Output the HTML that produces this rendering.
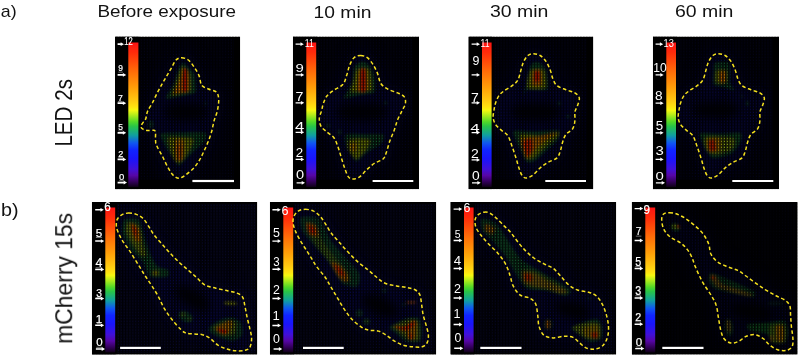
<!DOCTYPE html>
<html><head><meta charset="utf-8"><title>Figure</title>
<style>html,body{margin:0;padding:0;background:#fff;}body{width:800px;height:358px;overflow:hidden;font-family:"Liberation Sans",sans-serif;}svg{display:block;}</style>
</head><body>
<svg width="800" height="358" viewBox="0 0 800 358">
<defs>
<linearGradient id="cb" x1="0" y1="0" x2="0" y2="1"><stop offset="0" stop-color="#ff1414"/><stop offset="0.07" stop-color="#ff2c0a"/><stop offset="0.2" stop-color="#ff6c08"/><stop offset="0.315" stop-color="#ffa008"/><stop offset="0.4" stop-color="#ffc810"/><stop offset="0.448" stop-color="#ffe410"/><stop offset="0.468" stop-color="#f6f810"/><stop offset="0.493" stop-color="#c4f018"/><stop offset="0.55" stop-color="#50d828"/><stop offset="0.58" stop-color="#28c448"/><stop offset="0.642" stop-color="#10a0a0"/><stop offset="0.695" stop-color="#1058f0"/><stop offset="0.745" stop-color="#1024ff"/><stop offset="0.805" stop-color="#1a14fa"/><stop offset="0.876" stop-color="#4010d8"/><stop offset="0.92" stop-color="#5606a6"/><stop offset="0.96" stop-color="#360060"/><stop offset="1" stop-color="#0e0016"/></linearGradient>
<pattern id="gridV" width="2.9" height="2.9" patternUnits="userSpaceOnUse"><rect x="0" y="0" width="1.72" height="2.9" fill="#000"/></pattern>
<pattern id="gridH" width="2.9" height="2.9" patternUnits="userSpaceOnUse"><rect x="1.72" y="0" width="1.18" height="1.66" fill="#000"/></pattern>
<filter id="bl" x="-50%" y="-50%" width="200%" height="200%"><feGaussianBlur stdDeviation="0.9"/></filter>
<filter id="bl3" x="-50%" y="-50%" width="200%" height="200%"><feGaussianBlur stdDeviation="8"/></filter>
<filter id="bl2" x="-50%" y="-50%" width="200%" height="200%"><feGaussianBlur stdDeviation="4"/></filter>
<clipPath id="ca1"><rect x="115.0" y="36.6" width="125.2" height="152.6"/></clipPath>
<clipPath id="ca2"><rect x="292.9" y="36.6" width="126.1" height="152.6"/></clipPath>
<clipPath id="ca3"><rect x="468.5" y="36.6" width="124.8" height="152.6"/></clipPath>
<clipPath id="ca4"><rect x="652.9" y="36.6" width="126.1" height="152.6"/></clipPath>
<clipPath id="cb1"><rect x="91.9" y="201.9" width="165.4" height="152.7"/></clipPath>
<clipPath id="cb2"><rect x="269.9" y="201.9" width="166.3" height="152.7"/></clipPath>
<clipPath id="cb3"><rect x="450.5" y="201.9" width="165.7" height="152.7"/></clipPath>
<clipPath id="cb4"><rect x="631.8" y="201.9" width="165.8" height="152.7"/></clipPath>
<path id="pa1" d="M181.6 57.7C183.7 57.7 186.2 58.5 188.3 60.0C190.4 61.5 192.1 64.1 193.9 66.7C195.7 69.3 197.7 72.5 199.0 75.6C200.3 78.7 200.1 83.0 201.7 85.2C203.3 87.4 206.0 87.9 208.4 89.0C210.8 90.1 214.6 90.3 216.3 92.0C218.0 93.7 218.5 96.0 218.7 99.1C218.9 102.2 218.2 107.0 217.4 110.7C216.6 114.4 214.9 117.6 214.0 121.0C213.1 124.4 212.7 127.7 211.8 131.0C210.9 134.3 209.7 137.8 208.4 141.1C207.1 144.4 205.5 147.9 204.0 151.1C202.5 154.3 201.2 157.3 199.5 160.1C197.8 162.9 196.1 165.5 193.9 167.9C191.7 170.3 188.5 172.9 186.1 174.6C183.7 176.3 181.4 178.0 179.4 178.2C177.4 178.4 175.7 177.5 173.8 175.8C171.9 174.1 170.1 171.1 168.2 167.9C166.3 164.7 164.4 160.1 162.6 156.7C160.8 153.3 158.7 149.7 157.6 147.5C156.5 145.3 156.2 145.0 155.8 143.4C155.5 141.8 155.6 139.5 155.5 137.7C155.4 135.8 155.8 133.5 155.5 132.3C155.2 131.1 155.2 130.6 153.9 130.3C152.6 130.0 149.5 130.6 147.6 130.4C145.7 130.2 143.6 129.6 142.5 128.9C141.4 128.2 141.0 127.3 141.0 126.4C141.0 125.5 141.7 124.5 142.5 123.3C143.3 122.0 144.8 120.9 145.7 118.9C146.5 116.9 146.4 114.0 147.6 111.3C148.8 108.6 150.9 105.7 152.6 102.5C154.2 99.3 155.8 95.7 157.5 92.4C159.2 89.2 161.0 85.8 162.6 83.0C164.2 80.2 165.5 78.1 167.0 75.6C168.5 73.1 170.0 70.4 171.5 67.8C173.0 65.2 174.3 61.7 176.0 60.0C177.7 58.3 179.5 57.7 181.6 57.7Z"/>
<path id="pa2" d="M360.7 55.5C362.9 55.5 365.3 56.2 367.4 57.7C369.4 59.2 371.3 61.8 373.0 64.4C374.7 67.0 376.2 70.2 377.5 73.4C378.8 76.6 379.1 80.9 380.8 83.5C382.5 86.1 384.8 87.4 387.6 89.0C390.4 90.6 394.8 91.6 397.6 92.9C400.4 94.2 403.0 95.1 404.3 96.9C405.6 98.7 405.8 101.3 405.4 103.6C405.0 105.9 403.4 108.0 402.1 110.7C400.8 113.4 398.9 116.6 397.6 119.8C396.3 123.0 395.6 126.4 394.3 129.9C393.0 133.5 391.1 137.4 389.8 141.1C388.5 144.8 387.5 149.3 386.4 152.3C385.3 155.3 385.2 157.1 383.1 159.0C381.1 160.9 376.9 161.6 374.1 163.5C371.3 165.4 368.7 168.0 366.3 170.2C363.9 172.4 361.8 175.4 359.6 176.9C357.4 178.4 354.8 179.1 352.9 179.1C351.0 179.1 349.7 178.6 348.4 176.9C347.1 175.2 346.1 172.0 345.0 169.0C343.9 166.0 342.8 162.5 341.7 159.0C340.6 155.5 339.6 151.4 338.3 147.8C337.0 144.2 335.8 140.3 333.9 137.7C332.0 135.1 329.2 134.0 327.1 132.1C325.0 130.2 322.4 128.7 321.1 126.5C319.8 124.3 319.2 121.3 319.3 118.7C319.4 116.1 320.9 113.2 321.6 110.7C322.3 108.2 322.4 106.1 323.3 103.6C324.2 101.1 325.3 98.0 327.1 95.8C328.9 93.6 331.3 92.1 333.9 90.2C336.5 88.3 340.7 87.0 342.8 84.6C344.9 82.2 345.5 78.8 346.6 75.6C347.7 72.4 348.3 68.6 349.5 65.6C350.7 62.6 352.1 59.4 354.0 57.7C355.9 56.0 358.5 55.5 360.7 55.5Z"/>
<path id="pa3" d="M533.5 53.7C535.5 53.7 538.2 54.3 540.2 55.5C542.2 56.7 544.1 58.7 545.8 61.1C547.5 63.5 549.0 67.0 550.2 70.0C551.4 73.0 551.8 76.4 552.9 79.0C554.0 81.6 554.8 83.9 557.0 85.7C559.2 87.5 562.9 88.5 565.9 89.7C568.9 90.9 572.7 91.5 574.9 92.9C577.1 94.3 578.9 95.8 579.3 98.0C579.7 100.2 578.2 103.5 577.5 105.8C576.8 108.1 575.3 109.5 574.9 112.0C574.5 114.5 575.3 118.1 574.9 120.9C574.5 123.7 574.1 126.6 572.6 128.8C571.1 131.1 567.6 132.2 565.9 134.4C564.2 136.6 563.5 139.4 562.6 142.2C561.7 145.0 561.2 148.5 560.3 151.1C559.4 153.7 559.0 156.0 557.0 157.9C555.0 159.8 550.8 160.6 548.0 162.3C545.2 164.0 542.6 165.9 540.2 167.9C537.8 169.9 535.7 172.9 533.5 174.6C531.3 176.3 528.7 177.8 526.8 178.0C524.9 178.2 523.6 177.5 522.3 175.8C521.0 174.1 520.0 171.1 518.9 167.9C517.8 164.7 516.8 160.4 515.6 156.7C514.4 153.0 513.1 149.1 511.8 145.6C510.5 142.1 509.5 138.1 507.7 135.5C505.9 132.9 503.1 131.8 501.0 129.9C498.9 128.0 496.7 126.3 495.4 124.3C494.1 122.2 493.4 119.9 493.2 117.6C492.9 115.3 493.5 113.0 493.9 110.7C494.3 108.4 494.6 106.1 495.4 103.6C496.2 101.1 497.3 98.0 498.8 95.8C500.3 93.6 502.2 92.3 504.4 90.6C506.6 88.9 510.0 87.5 512.2 85.7C514.4 84.0 516.4 82.5 517.8 80.1C519.2 77.7 519.8 74.1 520.7 71.1C521.6 68.1 522.2 64.8 523.4 62.2C524.6 59.6 526.2 56.9 527.9 55.5C529.6 54.1 531.5 53.7 533.5 53.7Z"/>
<path id="pa4" d="M718.5 53.7C720.5 53.7 723.2 54.3 725.2 55.5C727.2 56.7 729.1 58.7 730.8 61.1C732.5 63.5 734.0 67.0 735.2 70.0C736.4 73.0 736.8 76.4 737.9 79.0C739.0 81.6 739.8 83.9 742.0 85.7C744.2 87.5 747.9 88.5 750.9 89.7C753.9 90.9 757.7 91.5 759.9 92.9C762.1 94.3 763.9 95.8 764.3 98.0C764.7 100.2 763.2 103.5 762.5 105.8C761.8 108.1 760.3 109.5 759.9 112.0C759.5 114.5 760.3 118.1 759.9 120.9C759.5 123.7 759.1 126.6 757.6 128.8C756.1 131.1 752.6 132.2 750.9 134.4C749.2 136.6 748.5 139.4 747.6 142.2C746.7 145.0 746.2 148.5 745.3 151.1C744.4 153.7 744.0 156.0 742.0 157.9C740.0 159.8 735.8 160.6 733.0 162.3C730.2 164.0 727.6 165.9 725.2 167.9C722.8 169.9 720.7 172.9 718.5 174.6C716.3 176.3 713.7 177.8 711.8 178.0C709.9 178.2 708.6 177.5 707.3 175.8C706.0 174.1 705.0 171.1 703.9 167.9C702.8 164.7 701.8 160.4 700.6 156.7C699.4 153.0 698.1 149.1 696.8 145.6C695.5 142.1 694.5 138.1 692.7 135.5C690.9 132.9 688.0 131.8 686.0 129.9C684.0 128.0 681.7 126.3 680.4 124.3C679.1 122.2 678.5 119.9 678.2 117.6C678.0 115.3 678.5 113.0 678.9 110.7C679.3 108.4 679.6 106.1 680.4 103.6C681.2 101.1 682.3 98.0 683.8 95.8C685.3 93.6 687.2 92.3 689.4 90.6C691.6 88.9 695.0 87.5 697.2 85.7C699.4 84.0 701.4 82.5 702.8 80.1C704.2 77.7 704.8 74.1 705.7 71.1C706.6 68.1 707.2 64.8 708.4 62.2C709.6 59.6 711.2 56.9 712.9 55.5C714.6 54.1 716.5 53.7 718.5 53.7Z"/>
<path id="pb1" d="M128.4 213.1C130.8 213.0 133.8 213.5 136.2 214.4C138.6 215.3 140.8 216.4 142.9 218.3C145.0 220.2 146.6 223.3 148.5 226.1C150.4 228.9 151.9 232.0 154.1 235.0C156.3 238.0 159.3 241.0 161.9 244.0C164.5 247.0 167.0 249.9 169.8 252.9C172.6 255.9 175.7 259.1 178.7 261.9C181.7 264.7 184.7 267.1 187.7 269.7C190.7 272.3 193.8 275.0 196.6 277.5C199.4 280.0 201.4 283.0 204.6 284.8C207.8 286.6 211.9 287.2 215.8 288.2C219.7 289.2 224.6 290.1 228.1 290.9C231.6 291.7 234.6 292.1 237.0 293.1C239.4 294.1 241.3 294.9 242.6 297.1C243.9 299.3 244.2 302.7 244.9 306.1C245.7 309.5 246.3 313.6 247.1 317.3C247.9 321.0 249.1 325.0 249.8 328.5C250.6 332.0 251.6 335.3 251.6 338.5C251.6 341.7 250.9 345.5 249.8 347.5C248.7 349.5 247.2 349.8 244.9 350.4C242.6 350.9 238.9 351.0 235.9 350.8C232.9 350.6 230.0 349.9 227.0 349.0C224.0 348.1 220.8 346.9 218.0 345.2C215.2 343.4 212.8 340.2 210.2 338.5C207.6 336.8 205.2 335.4 202.4 334.7C199.6 333.9 196.2 334.3 193.4 334.0C190.6 333.7 187.7 333.6 185.6 332.9C183.5 332.2 183.3 331.8 181.0 329.6C178.7 327.4 174.8 323.1 172.0 319.5C169.2 315.9 166.4 312.0 164.2 308.3C162.0 304.6 160.6 300.8 158.6 297.1C156.6 293.4 154.1 289.3 151.9 285.9C149.7 282.5 147.5 279.4 145.6 276.5C143.7 273.6 142.4 271.4 140.7 268.6C138.9 265.8 137.0 262.6 135.1 259.6C133.2 256.6 131.4 253.5 129.5 250.7C127.6 247.9 125.6 245.5 123.9 242.9C122.2 240.3 120.6 237.6 119.4 235.0C118.2 232.4 116.9 229.8 116.5 227.2C116.1 224.6 116.3 221.4 117.2 219.4C118.1 217.4 119.8 216.0 121.7 214.9C123.6 213.8 126.0 213.2 128.4 213.1Z"/>
<path id="pb2" d="M305.3 209.3C307.7 209.3 310.7 209.8 313.1 210.9C315.5 212.0 317.8 213.8 319.8 216.0C321.9 218.2 323.5 221.0 325.4 223.8C327.3 226.6 328.8 229.8 331.0 232.8C333.2 235.8 336.0 238.5 338.8 241.7C341.6 244.9 344.6 248.4 347.8 251.8C351.0 255.2 354.5 258.9 357.8 261.9C361.1 264.9 364.7 267.1 367.9 269.7C371.1 272.3 374.0 275.2 376.9 277.5C379.8 279.8 381.9 281.9 385.2 283.3C388.4 284.7 392.7 285.2 396.4 285.9C400.1 286.6 404.4 287.0 407.6 287.7C410.8 288.4 413.3 288.8 415.4 290.0C417.4 291.2 418.8 292.4 419.9 294.9C420.9 297.4 421.1 301.6 421.7 305.0C422.2 308.4 422.5 311.6 423.2 315.0C423.9 318.4 425.2 321.7 426.1 325.1C427.0 328.5 428.2 332.2 428.4 335.2C428.5 338.2 428.1 341.1 427.0 343.0C425.9 344.9 424.4 346.2 422.1 346.8C419.8 347.4 416.4 347.1 413.2 346.8C410.0 346.5 406.3 346.2 403.1 345.2C399.9 344.2 396.9 342.5 394.1 340.8C391.3 339.1 388.9 336.8 386.3 335.2C383.7 333.6 381.3 331.9 378.5 331.1C375.7 330.3 372.3 330.8 369.5 330.2C366.7 329.6 364.6 329.1 361.7 327.3C358.8 325.5 355.1 322.5 352.2 319.5C349.3 316.5 346.8 312.9 344.4 309.4C342.0 305.9 339.9 302.0 337.7 298.3C335.5 294.6 333.1 290.7 331.0 287.1C328.9 283.6 327.4 280.4 325.0 277.0C322.6 273.6 318.9 269.7 316.5 266.4C314.1 263.1 312.8 260.4 310.9 257.4C309.0 254.4 307.2 251.5 305.3 248.5C303.4 245.5 301.4 242.5 299.7 239.5C298.0 236.5 296.3 233.4 295.2 230.6C294.1 227.8 293.2 225.1 293.0 222.7C292.8 220.3 293.2 218.0 294.1 216.0C295.0 214.0 296.7 212.0 298.6 210.9C300.5 209.8 302.9 209.3 305.3 209.3Z"/>
<path id="pb3" d="M484.1 212.2C486.0 212.0 487.6 212.1 489.7 213.1C491.8 214.1 494.1 216.1 496.5 218.3C498.9 220.5 501.9 223.7 504.3 226.1C506.7 228.5 508.8 230.2 511.0 232.8C513.2 235.4 515.3 238.7 517.7 241.7C520.1 244.7 522.7 247.9 525.5 250.7C528.3 253.5 531.3 256.3 534.5 258.5C537.7 260.7 541.3 262.4 544.5 264.1C547.7 265.8 550.8 266.5 553.5 268.6C556.2 270.7 558.5 273.8 561.0 276.5C563.5 279.2 565.9 282.6 568.6 284.8C571.4 287.1 574.1 288.8 577.5 290.0C580.9 291.2 585.5 291.2 588.7 292.2C591.9 293.2 594.3 294.1 596.5 296.0C598.7 297.9 600.5 300.8 602.1 303.8C603.7 306.8 605.1 310.3 606.1 313.9C607.1 317.4 608.1 321.4 608.4 325.1C608.7 328.8 608.6 333.0 607.7 336.3C606.8 339.6 605.2 343.1 603.2 345.2C601.2 347.3 598.2 348.5 595.4 349.0C592.6 349.5 589.1 349.1 586.5 348.1C583.9 347.1 582.0 344.8 579.7 343.0C577.5 341.2 575.6 338.5 573.0 337.4C570.4 336.3 567.5 336.2 564.1 336.3C560.8 336.4 556.3 338.1 552.9 337.9C549.5 337.7 546.2 337.1 543.9 335.2C541.6 333.2 540.0 329.6 539.0 326.2C538.0 322.8 538.3 318.7 537.7 315.0C537.1 311.3 536.9 306.6 535.6 303.8C534.3 301.0 532.6 299.8 530.0 298.3C527.4 296.8 522.7 297.0 519.9 294.9C517.1 292.8 514.8 289.0 513.2 285.9C511.6 282.8 511.2 279.2 510.3 276.5C509.4 273.8 509.1 272.1 508.1 269.7C507.1 267.3 506.1 264.7 504.3 261.9C502.6 259.1 500.2 255.9 497.6 252.9C495.0 249.9 491.4 247.0 488.6 244.0C485.8 241.0 482.9 237.8 480.8 235.0C478.7 232.2 476.8 229.8 475.9 227.2C475.0 224.6 474.8 221.5 475.2 219.4C475.6 217.3 477.1 215.6 478.6 214.4C480.1 213.2 482.2 212.4 484.1 212.2Z"/>
<path id="pb4" d="M669.5 212.7C671.5 212.7 673.6 212.9 676.2 213.8C678.8 214.7 682.2 216.4 685.2 218.3C688.2 220.2 691.1 222.4 694.1 225.0C697.1 227.6 700.7 230.7 703.1 233.9C705.5 237.1 707.4 240.7 708.7 244.0C710.0 247.3 709.4 251.0 710.9 254.0C712.4 257.0 714.8 259.8 717.6 261.9C720.4 264.0 724.4 265.4 727.7 266.8C731.1 268.2 734.7 268.9 737.7 270.4C740.8 271.9 742.9 273.8 746.0 276.0C749.1 278.2 753.0 281.3 756.4 283.7C759.8 286.1 763.1 288.3 766.5 290.4C769.9 292.4 773.3 294.3 776.5 296.0C779.7 297.7 783.3 298.8 785.5 300.5C787.7 302.2 789.0 303.5 789.9 306.1C790.8 308.7 790.3 312.6 790.6 316.1C790.9 319.6 791.1 323.6 791.5 327.3C791.9 331.0 792.8 335.3 792.9 338.5C793.0 341.7 793.2 344.4 792.2 346.4C791.2 348.4 789.0 349.8 786.6 350.4C784.2 350.9 780.4 350.6 777.6 349.7C774.8 348.8 772.2 347.1 769.8 345.2C767.4 343.3 765.5 340.2 763.1 338.5C760.7 336.8 758.1 335.1 755.3 334.7C752.5 334.3 749.1 335.2 746.3 336.3C743.5 337.4 741.1 340.3 738.5 341.4C735.9 342.5 733.1 343.5 730.7 343.0C728.3 342.5 725.6 340.7 723.9 338.5C722.2 336.3 721.5 333.1 720.6 329.6C719.7 326.1 719.1 321.4 718.4 317.3C717.6 313.2 717.4 308.7 716.1 305.0C714.9 301.3 712.9 298.3 710.9 294.9C708.9 291.5 706.1 287.9 704.2 284.8C702.3 281.7 701.2 279.6 699.7 276.5C698.2 273.4 696.5 269.6 695.2 266.4C693.9 263.2 693.2 260.2 691.9 257.4C690.6 254.6 689.3 252.0 687.4 249.6C685.5 247.2 683.5 244.9 680.7 242.9C677.9 240.9 673.4 239.6 670.6 237.3C667.8 235.1 665.4 232.4 663.9 229.4C662.4 226.4 661.7 222.0 661.7 219.4C661.7 216.8 662.6 214.9 663.9 213.8C665.2 212.7 667.5 212.7 669.5 212.7Z"/>
</defs>
<rect width="800" height="358" fill="#fff"/>
<g clip-path="url(#ca1)">
<rect x="115.0" y="36.6" width="125.2" height="152.6" fill="#000"/>
<clipPath id="fa1"><rect x="139.4" y="38.6" width="94.8" height="141.1"/></clipPath>
<g clip-path="url(#fa1)">
<rect x="139.4" y="38.6" width="94.8" height="141.1" fill="#040418"/>
<use href="#pa1" fill="#10106c" stroke="#10106c" stroke-width="12" filter="url(#bl3)" opacity="0.39"/>
<use href="#pa1" fill="#10106c" filter="url(#bl2)" opacity="0.35"/>
</g>
<ellipse cx="186.0" cy="112.0" rx="22.0" ry="9.0" fill="#000" opacity="0.8" filter="url(#bl2)" transform="rotate(0 186.0 112.0)"/>
<g filter="url(#bl)">
<ellipse cx="150.8" cy="124.3" rx="2.8" ry="3.8" fill="#24a424" opacity="0.43"/>
<ellipse cx="205.7" cy="103.4" rx="1.5" ry="2.2" fill="#24a424" opacity="0.23"/>
<path d="M183.2 63.0C184.4 63.0 187.7 66.7 189.0 68.0C190.3 69.3 193.7 72.4 194.5 74.3C195.3 76.2 195.5 81.9 195.6 84.0C195.7 86.1 196.8 91.1 195.2 92.5C193.6 93.9 185.4 95.3 182.0 96.0C178.6 96.7 167.8 99.0 166.3 98.4C164.8 97.8 168.6 92.8 169.5 91.0C170.4 89.2 172.7 85.7 173.8 83.0C174.9 80.3 177.7 70.3 178.8 68.0C179.9 65.7 182.0 63.0 183.2 63.0Z" fill="#24a424" opacity="0.59"/>
<path d="M182.6 66.8C184.1 66.1 188.6 72.4 189.5 74.3C190.4 76.2 190.4 81.1 190.5 83.0C190.6 84.9 191.2 89.8 190.0 91.0C188.8 92.2 182.1 93.0 180.0 93.5C177.9 94.0 172.3 96.6 172.0 95.0C171.7 93.4 175.8 83.3 177.0 80.0C178.2 76.7 181.1 67.5 182.6 66.8Z" fill="#c8c400" opacity="0.72"/>
<path d="M183.0 68.0C183.8 67.5 187.6 69.3 188.2 72.0C188.8 74.7 189.4 88.6 188.5 91.0C187.6 93.4 182.2 92.2 180.4 92.5C178.7 92.8 173.9 94.3 173.5 93.5C173.1 92.7 176.1 88.0 177.0 86.0C177.9 84.0 180.3 78.1 181.0 76.0C181.7 73.9 182.2 68.5 183.0 68.0Z" fill="#f06a00" opacity="0.81"/>
<path d="M184.4 68.5C184.9 68.4 186.7 67.9 187.0 70.5C187.3 73.1 187.5 88.2 187.0 90.5C186.5 92.8 183.5 92.8 183.0 90.5C182.5 88.2 182.8 73.6 183.0 71.0C183.2 68.4 183.9 68.6 184.4 68.5Z" fill="#f01400" opacity="1.00"/>
<path d="M161.3 133.5C163.8 132.7 177.9 132.6 183.0 132.5C188.1 132.4 202.8 131.8 205.3 132.8C207.8 133.8 205.9 139.1 204.5 141.3C203.1 143.5 195.8 149.3 193.0 152.0C190.2 154.7 182.4 163.1 180.5 164.5C178.6 165.9 178.5 165.7 177.0 164.0C175.5 162.3 169.3 153.0 167.6 150.1C165.8 147.2 162.7 140.9 162.0 139.0C161.3 137.1 158.9 134.3 161.3 133.5Z" fill="#24a424" opacity="0.56"/>
<path d="M168.8 137.6C171.4 136.4 190.2 137.5 192.7 138.8C195.2 140.1 191.5 146.3 190.2 148.9C188.9 151.5 183.2 159.9 181.4 161.4C179.6 162.9 176.4 162.9 175.1 161.4C173.8 159.9 170.8 151.7 170.1 148.9C169.4 146.1 166.2 138.8 168.8 137.6Z" fill="#c8c400" opacity="0.68"/>
<path d="M174.7 140.3C175.7 138.1 183.3 138.1 184.3 140.3C185.3 142.5 184.0 157.3 183.0 159.5C182.0 161.7 176.8 161.7 175.8 159.5C174.8 157.3 173.7 142.5 174.7 140.3Z" fill="#f06a00" opacity="0.59"/>
<path d="M176.5 146.0C177.1 144.5 181.9 144.5 182.5 146.0C183.1 147.5 182.1 157.5 181.5 159.0C180.9 160.5 177.6 160.5 177.0 159.0C176.4 157.5 175.9 147.5 176.5 146.0Z" fill="#f01400" opacity="0.30"/>
</g>
<mask id="ma1" maskUnits="userSpaceOnUse" x="115.0" y="36.6" width="125.2" height="152.6"><rect x="115.0" y="36.6" width="125.2" height="152.6" fill="#fff"/><g filter="url(#bl)" opacity="0.28"><path d="M183.0 68.0C183.8 67.5 187.6 69.3 188.2 72.0C188.8 74.7 189.4 88.6 188.5 91.0C187.6 93.4 182.2 92.2 180.4 92.5C178.7 92.8 173.9 94.3 173.5 93.5C173.1 92.7 176.1 88.0 177.0 86.0C177.9 84.0 180.3 78.1 181.0 76.0C181.7 73.9 182.2 68.5 183.0 68.0Z" fill="#000"/><path d="M184.4 68.5C184.9 68.4 186.7 67.9 187.0 70.5C187.3 73.1 187.5 88.2 187.0 90.5C186.5 92.8 183.5 92.8 183.0 90.5C182.5 88.2 182.8 73.6 183.0 71.0C183.2 68.4 183.9 68.6 184.4 68.5Z" fill="#000"/><path d="M174.7 140.3C175.7 138.1 183.3 138.1 184.3 140.3C185.3 142.5 184.0 157.3 183.0 159.5C182.0 161.7 176.8 161.7 175.8 159.5C174.8 157.3 173.7 142.5 174.7 140.3Z" fill="#000"/><path d="M176.5 146.0C177.1 144.5 181.9 144.5 182.5 146.0C183.1 147.5 182.1 157.5 181.5 159.0C180.9 160.5 177.6 160.5 177.0 159.0C176.4 157.5 175.9 147.5 176.5 146.0Z" fill="#000"/></g></mask>
<rect x="115.0" y="36.6" width="125.2" height="152.6" fill="url(#gridV)" opacity="0.9"/>
<rect x="115.0" y="36.6" width="125.2" height="152.6" fill="url(#gridH)" opacity="0.9" mask="url(#ma1)"/>
<rect x="115.0" y="36.6" width="24.2" height="152.6" fill="#000"/>
<rect x="128.3" y="42.5" width="10.1" height="144.5" fill="url(#cb)"/>
<use href="#pa1" fill="none" stroke="#f5e11e" stroke-width="1.5" stroke-dasharray="3.6 2.5"/>
<rect x="192.4" y="179.9" width="41.6" height="2.2" fill="#fff"/>
<g opacity="0.995" fill="#fff" stroke="#fff" stroke-width="0.20" font-family="'Liberation Sans', sans-serif">
<text x="124.3" y="45.3" font-size="10.6" textLength="8.4" lengthAdjust="spacingAndGlyphs">12</text>
<text x="118.3" y="71.2" font-size="8.7" textLength="4.7" lengthAdjust="spacingAndGlyphs">9</text>
<rect x="118.3" y="71.8" width="4.6" height="0.55" stroke="none" opacity="0.8"/>
<text x="117.9" y="100.6" font-size="8.8" textLength="4.8" lengthAdjust="spacingAndGlyphs">7</text>
<rect x="117.9" y="101.1" width="4.7" height="0.55" stroke="none" opacity="0.8"/>
<text x="118.3" y="130.1" font-size="8.7" textLength="4.7" lengthAdjust="spacingAndGlyphs">5</text>
<rect x="118.3" y="130.7" width="4.6" height="0.55" stroke="none" opacity="0.8"/>
<text x="118.2" y="156.5" font-size="8.7" textLength="5.1" lengthAdjust="spacingAndGlyphs">2</text>
<rect x="118.3" y="157.1" width="5.0" height="0.55" stroke="none" opacity="0.8"/>
<text x="119.0" y="180.0" font-size="8.5" textLength="5.3" lengthAdjust="spacingAndGlyphs">0</text>
<rect x="119.1" y="180.6" width="5.2" height="0.55" stroke="none" opacity="0.8"/>
</g>
<path d="M117.6 44.2H121.8" stroke="#fff" stroke-width="1.80"/>
<path d="M124.0 44.2L120.7 42.3L120.7 46.1Z" fill="#fff"/>
<path d="M117.6 74.9H124.0" stroke="#fff" stroke-width="1.80"/>
<path d="M126.2 74.9L122.9 73.0L122.9 76.8Z" fill="#fff"/>
<path d="M117.6 103.2H124.0" stroke="#fff" stroke-width="1.80"/>
<path d="M126.2 103.2L122.9 101.3L122.9 105.1Z" fill="#fff"/>
<path d="M117.6 132.8H124.0" stroke="#fff" stroke-width="1.80"/>
<path d="M126.2 132.8L122.9 130.9L122.9 134.7Z" fill="#fff"/>
<path d="M117.6 159.4H124.0" stroke="#fff" stroke-width="1.80"/>
<path d="M126.2 159.4L122.9 157.5L122.9 161.3Z" fill="#fff"/>
<path d="M117.6 182.6H124.8" stroke="#fff" stroke-width="1.80"/>
<path d="M127.0 182.6L123.7 180.7L123.7 184.5Z" fill="#fff"/>
</g>
<g clip-path="url(#ca2)">
<rect x="292.9" y="36.6" width="126.1" height="152.6" fill="#000"/>
<clipPath id="fa2"><rect x="317.2" y="38.6" width="95.8" height="141.1"/></clipPath>
<g clip-path="url(#fa2)">
<rect x="317.2" y="38.6" width="95.8" height="141.1" fill="#040418"/>
<use href="#pa2" fill="#10106c" stroke="#10106c" stroke-width="12" filter="url(#bl3)" opacity="0.39"/>
<use href="#pa2" fill="#10106c" filter="url(#bl2)" opacity="0.35"/>
</g>
<ellipse cx="362.0" cy="112.0" rx="26.0" ry="9.0" fill="#000" opacity="0.8" filter="url(#bl2)" transform="rotate(0 362.0 112.0)"/>
<g filter="url(#bl)">
<path d="M362.5 61.8C364.3 61.6 368.0 63.8 369.4 65.5C370.8 67.2 373.8 73.7 374.4 76.8C375.0 79.9 376.1 89.8 374.4 91.9C372.7 94.0 363.5 94.3 360.0 95.0C356.5 95.7 345.8 98.5 344.3 98.2C342.8 97.9 346.1 93.8 347.0 92.0C347.9 90.2 350.9 86.0 351.8 83.1C352.7 80.2 353.1 69.3 354.3 66.8C355.5 64.3 360.7 62.0 362.5 61.8Z" fill="#24a424" opacity="0.59"/>
<path d="M357.0 69.5C358.8 68.3 367.3 67.2 369.0 69.5C370.7 71.8 372.7 86.9 371.9 89.4C371.1 91.9 364.5 90.8 362.0 91.0C359.5 91.2 351.5 92.8 350.6 91.5C349.7 90.2 353.3 82.6 354.0 80.0C354.7 77.4 355.2 70.7 357.0 69.5Z" fill="#c8c400" opacity="0.72"/>
<path d="M359.5 70.0C360.6 67.6 365.6 67.7 366.5 70.0C367.4 72.3 368.6 87.6 367.5 90.0C366.4 92.4 357.9 92.8 357.0 90.5C356.1 88.2 358.4 72.4 359.5 70.0Z" fill="#f06a00" opacity="0.81"/>
<path d="M360.8 70.0C361.3 67.6 364.9 67.6 365.4 70.0C365.9 72.4 365.9 88.3 365.4 90.7C364.9 93.1 361.3 93.1 360.8 90.7C360.3 88.3 360.3 72.4 360.8 70.0Z" fill="#f01400" opacity="1.00"/>
<path d="M345.6 134.6C347.7 133.0 360.6 134.2 365.0 134.2C369.4 134.2 381.4 133.5 383.3 134.6C385.2 135.7 382.8 141.8 381.0 143.8C379.2 145.8 370.7 150.0 368.0 152.0C365.3 154.0 359.1 159.9 357.5 160.8C355.9 161.7 355.7 161.5 354.5 160.0C353.3 158.5 347.8 150.6 346.8 147.6C345.8 144.6 343.5 136.2 345.6 134.6Z" fill="#24a424" opacity="0.53"/>
<ellipse cx="339.6" cy="132.2" rx="1.8" ry="2.6" fill="#24a424" opacity="0.46"/>
<ellipse cx="385.7" cy="102.7" rx="1.8" ry="1.5" fill="#24a424" opacity="0.40"/>
<ellipse cx="328.1" cy="125.7" rx="2.2" ry="1.8" fill="#24a424" opacity="0.40"/>
<path d="M349.3 139.5C351.8 138.4 367.3 138.7 369.4 139.8C371.5 140.9 368.2 146.8 366.9 148.9C365.6 151.0 359.6 156.9 358.1 158.0C356.6 159.1 355.6 159.1 354.4 158.0C353.2 156.9 348.7 151.1 348.1 148.9C347.5 146.7 346.8 140.6 349.3 139.5Z" fill="#c8c400" opacity="0.68"/>
<path d="M350.0 144.0C350.6 143.1 355.3 142.2 356.0 143.0C356.7 143.8 356.6 150.1 356.0 151.0C355.4 151.9 351.7 151.8 351.0 151.0C350.3 150.2 349.4 144.9 350.0 144.0Z" fill="#f06a00" opacity="0.50"/>
</g>
<mask id="ma2" maskUnits="userSpaceOnUse" x="292.9" y="36.6" width="126.1" height="152.6"><rect x="292.9" y="36.6" width="126.1" height="152.6" fill="#fff"/><g filter="url(#bl)" opacity="0.28"><path d="M359.5 70.0C360.6 67.6 365.6 67.7 366.5 70.0C367.4 72.3 368.6 87.6 367.5 90.0C366.4 92.4 357.9 92.8 357.0 90.5C356.1 88.2 358.4 72.4 359.5 70.0Z" fill="#000"/><path d="M360.8 70.0C361.3 67.6 364.9 67.6 365.4 70.0C365.9 72.4 365.9 88.3 365.4 90.7C364.9 93.1 361.3 93.1 360.8 90.7C360.3 88.3 360.3 72.4 360.8 70.0Z" fill="#000"/><path d="M350.0 144.0C350.6 143.1 355.3 142.2 356.0 143.0C356.7 143.8 356.6 150.1 356.0 151.0C355.4 151.9 351.7 151.8 351.0 151.0C350.3 150.2 349.4 144.9 350.0 144.0Z" fill="#000"/></g></mask>
<rect x="292.9" y="36.6" width="126.1" height="152.6" fill="url(#gridV)" opacity="0.9"/>
<rect x="292.9" y="36.6" width="126.1" height="152.6" fill="url(#gridH)" opacity="0.9" mask="url(#ma2)"/>
<rect x="292.9" y="36.6" width="24.1" height="152.6" fill="#000"/>
<rect x="306.3" y="42.5" width="9.9" height="144.5" fill="url(#cb)"/>
<use href="#pa2" fill="none" stroke="#f5e11e" stroke-width="1.5" stroke-dasharray="3.6 2.5"/>
<rect x="372.6" y="180.0" width="40.7" height="2.0" fill="#fff"/>
<g opacity="0.995" fill="#fff" stroke="#fff" stroke-width="0.00" font-family="'Liberation Sans', sans-serif">
<text x="304.7" y="46.5" font-size="10.9" textLength="9.1" lengthAdjust="spacingAndGlyphs">11</text>
<text x="295.6" y="72.0" font-size="11.0" textLength="8.3" lengthAdjust="spacingAndGlyphs">9</text>
<text x="295.6" y="100.6" font-size="12.1" textLength="7.9" lengthAdjust="spacingAndGlyphs">7</text>
<text x="294.9" y="130.8" font-size="11.9" textLength="9.3" lengthAdjust="spacingAndGlyphs">4</text>
<text x="295.7" y="156.9" font-size="12.2" textLength="7.4" lengthAdjust="spacingAndGlyphs">2</text>
<text x="296.0" y="179.4" font-size="12.1" textLength="8.1" lengthAdjust="spacingAndGlyphs">0</text>
</g>
<path d="M295.6 44.2H301.6" stroke="#fff" stroke-width="1.25"/>
<path d="M303.8 44.2L300.5 42.3L300.5 46.1Z" fill="#fff"/>
<path d="M295.6 74.9H302.0" stroke="#fff" stroke-width="1.25"/>
<path d="M304.2 74.9L300.9 73.0L300.9 76.8Z" fill="#fff"/>
<path d="M295.6 102.8H302.0" stroke="#fff" stroke-width="1.25"/>
<path d="M304.2 102.8L300.9 100.9L300.9 104.7Z" fill="#fff"/>
<path d="M295.6 132.3H302.0" stroke="#fff" stroke-width="1.25"/>
<path d="M304.2 132.3L300.9 130.4L300.9 134.2Z" fill="#fff"/>
<path d="M295.6 159.4H302.0" stroke="#fff" stroke-width="1.25"/>
<path d="M304.2 159.4L300.9 157.5L300.9 161.3Z" fill="#fff"/>
<path d="M296.6 182.8H302.8" stroke="#fff" stroke-width="1.25"/>
<path d="M305.0 182.8L301.7 180.9L301.7 184.7Z" fill="#fff"/>
</g>
<g clip-path="url(#ca3)">
<rect x="468.5" y="36.6" width="124.8" height="152.6" fill="#000"/>
<clipPath id="fa3"><rect x="492.6" y="38.6" width="94.7" height="141.1"/></clipPath>
<g clip-path="url(#fa3)">
<rect x="492.6" y="38.6" width="94.7" height="141.1" fill="#040418"/>
<use href="#pa3" fill="#10106c" stroke="#10106c" stroke-width="12" filter="url(#bl3)" opacity="0.39"/>
<use href="#pa3" fill="#10106c" filter="url(#bl2)" opacity="0.35"/>
</g>
<ellipse cx="536.0" cy="112.0" rx="26.0" ry="9.0" fill="#000" opacity="0.8" filter="url(#bl2)" transform="rotate(0 536.0 112.0)"/>
<g filter="url(#bl)">
<path d="M532.6 63.0C533.9 62.1 538.6 62.1 540.2 63.0C541.8 63.9 545.5 67.6 546.4 70.6C547.3 73.6 548.9 86.7 547.7 89.0C546.5 91.3 538.5 89.9 536.0 90.0C533.5 90.1 527.8 89.3 526.3 90.0C524.8 90.7 523.4 96.8 523.4 96.0C523.4 95.2 525.7 86.1 526.3 83.1C526.9 80.1 528.1 72.9 528.8 70.6C529.5 68.3 531.3 63.9 532.6 63.0Z" fill="#24a424" opacity="0.56"/>
<path d="M530.6 70.6C532.5 68.6 542.2 68.6 543.9 70.6C545.6 72.6 547.1 85.5 545.2 87.5C543.3 89.5 529.3 89.5 527.6 87.5C525.9 85.5 528.7 72.6 530.6 70.6Z" fill="#c8c400" opacity="0.68"/>
<path d="M533.0 71.0C534.0 69.4 540.0 69.4 541.0 71.0C542.0 72.6 542.5 83.4 541.5 85.0C540.5 86.6 533.5 86.6 532.5 85.0C531.5 83.4 532.0 72.6 533.0 71.0Z" fill="#f06a00" opacity="0.81"/>
<path d="M534.5 71.5C535.1 70.4 539.1 70.4 539.7 71.5C540.3 72.6 540.3 79.9 539.7 81.0C539.1 82.1 535.1 82.1 534.5 81.0C533.9 79.9 533.9 72.6 534.5 71.5Z" fill="#f01400" opacity="0.90"/>
<path d="M514.3 131.0C516.8 130.2 530.8 131.6 536.0 131.5C541.2 131.4 556.1 129.5 558.6 130.5C561.1 131.5 559.0 137.7 557.5 140.1C556.0 142.5 548.6 148.7 546.0 151.0C543.4 153.3 537.8 158.9 535.6 160.2C533.4 161.5 528.5 163.2 526.8 162.0C525.0 160.8 522.0 152.9 520.6 150.1C519.2 147.3 515.7 140.2 515.0 138.0C514.3 135.8 511.8 131.8 514.3 131.0Z" fill="#24a424" opacity="0.59"/>
<path d="M520.6 134.6C522.8 133.4 536.3 136.2 540.7 136.0C545.1 135.8 556.4 132.7 558.3 132.8C560.2 132.9 558.5 135.4 557.0 137.0C555.5 138.6 548.5 144.0 545.7 146.4C542.9 148.8 535.4 156.6 533.1 158.0C530.8 159.4 526.9 159.4 525.6 158.0C524.3 156.6 522.4 149.1 521.8 146.4C521.2 143.7 518.4 135.8 520.6 134.6Z" fill="#c8c400" opacity="0.68"/>
<path d="M521.5 138.0C523.1 136.8 531.8 137.1 536.0 136.5C540.2 135.9 556.1 132.2 557.5 132.5C558.9 132.8 550.5 137.1 548.0 139.0C545.5 140.9 538.2 146.8 536.0 149.0C533.8 151.2 530.2 157.1 529.0 158.0C527.8 158.9 526.4 158.3 525.6 157.0C524.8 155.7 522.5 149.2 522.0 147.0C521.5 144.8 519.9 139.2 521.5 138.0Z" fill="#f06a00" opacity="0.68"/>
<path d="M523.0 142.0C523.8 140.4 530.5 137.7 531.6 138.6C532.7 139.5 533.3 148.0 532.8 150.1C532.3 152.2 528.1 156.6 527.2 156.8C526.3 157.0 525.3 153.7 524.8 152.0C524.3 150.3 522.2 143.6 523.0 142.0Z" fill="#f01400" opacity="0.75"/>
<ellipse cx="568.0" cy="116.5" rx="1.8" ry="1.5" fill="#24a424" opacity="0.46"/>
<ellipse cx="559.1" cy="103.4" rx="1.8" ry="1.8" fill="#24a424" opacity="0.36"/>
</g>
<mask id="ma3" maskUnits="userSpaceOnUse" x="468.5" y="36.6" width="124.8" height="152.6"><rect x="468.5" y="36.6" width="124.8" height="152.6" fill="#fff"/><g filter="url(#bl)" opacity="0.28"><path d="M533.0 71.0C534.0 69.4 540.0 69.4 541.0 71.0C542.0 72.6 542.5 83.4 541.5 85.0C540.5 86.6 533.5 86.6 532.5 85.0C531.5 83.4 532.0 72.6 533.0 71.0Z" fill="#000"/><path d="M534.5 71.5C535.1 70.4 539.1 70.4 539.7 71.5C540.3 72.6 540.3 79.9 539.7 81.0C539.1 82.1 535.1 82.1 534.5 81.0C533.9 79.9 533.9 72.6 534.5 71.5Z" fill="#000"/><path d="M521.5 138.0C523.1 136.8 531.8 137.1 536.0 136.5C540.2 135.9 556.1 132.2 557.5 132.5C558.9 132.8 550.5 137.1 548.0 139.0C545.5 140.9 538.2 146.8 536.0 149.0C533.8 151.2 530.2 157.1 529.0 158.0C527.8 158.9 526.4 158.3 525.6 157.0C524.8 155.7 522.5 149.2 522.0 147.0C521.5 144.8 519.9 139.2 521.5 138.0Z" fill="#000"/><path d="M523.0 142.0C523.8 140.4 530.5 137.7 531.6 138.6C532.7 139.5 533.3 148.0 532.8 150.1C532.3 152.2 528.1 156.6 527.2 156.8C526.3 157.0 525.3 153.7 524.8 152.0C524.3 150.3 522.2 143.6 523.0 142.0Z" fill="#000"/></g></mask>
<rect x="468.5" y="36.6" width="124.8" height="152.6" fill="url(#gridV)" opacity="0.9"/>
<rect x="468.5" y="36.6" width="124.8" height="152.6" fill="url(#gridH)" opacity="0.9" mask="url(#ma3)"/>
<rect x="468.5" y="36.6" width="23.9" height="152.6" fill="#000"/>
<rect x="482.0" y="42.5" width="9.6" height="144.5" fill="url(#cb)"/>
<use href="#pa3" fill="none" stroke="#f5e11e" stroke-width="1.5" stroke-dasharray="3.6 2.5"/>
<rect x="545.3" y="180.0" width="40.7" height="2.0" fill="#fff"/>
<g opacity="0.995" fill="#fff" stroke="#fff" stroke-width="0.00" font-family="'Liberation Sans', sans-serif">
<text x="480.6" y="46.5" font-size="11.5" textLength="9.0" lengthAdjust="spacingAndGlyphs">11</text>
<text x="472.6" y="64.5" font-size="12.9" textLength="6.9" lengthAdjust="spacingAndGlyphs">9</text>
<text x="471.1" y="101.6" font-size="12.4" textLength="7.8" lengthAdjust="spacingAndGlyphs">7</text>
<text x="470.2" y="132.0" font-size="11.5" textLength="9.4" lengthAdjust="spacingAndGlyphs">4</text>
<text x="471.1" y="157.9" font-size="12.4" textLength="7.8" lengthAdjust="spacingAndGlyphs">2</text>
<text x="471.9" y="180.1" font-size="12.4" textLength="7.7" lengthAdjust="spacingAndGlyphs">0</text>
</g>
<path d="M471.6 44.2H477.8" stroke="#fff" stroke-width="1.25"/>
<path d="M480.0 44.2L476.7 42.3L476.7 46.1Z" fill="#fff"/>
<path d="M471.6 74.9H477.8" stroke="#fff" stroke-width="1.25"/>
<path d="M480.0 74.9L476.7 73.0L476.7 76.8Z" fill="#fff"/>
<path d="M471.6 102.8H477.8" stroke="#fff" stroke-width="1.25"/>
<path d="M480.0 102.8L476.7 100.9L476.7 104.7Z" fill="#fff"/>
<path d="M471.6 132.5H477.8" stroke="#fff" stroke-width="1.25"/>
<path d="M480.0 132.5L476.7 130.6L476.7 134.4Z" fill="#fff"/>
<path d="M471.6 159.9H477.8" stroke="#fff" stroke-width="1.25"/>
<path d="M480.0 159.9L476.7 158.0L476.7 161.8Z" fill="#fff"/>
<path d="M472.0 182.8H478.5" stroke="#fff" stroke-width="1.25"/>
<path d="M480.7 182.8L477.4 180.9L477.4 184.7Z" fill="#fff"/>
</g>
<g clip-path="url(#ca4)">
<rect x="652.9" y="36.6" width="126.1" height="152.6" fill="#000"/>
<clipPath id="fa4"><rect x="677.0" y="38.6" width="96.0" height="141.1"/></clipPath>
<g clip-path="url(#fa4)">
<rect x="677.0" y="38.6" width="96.0" height="141.1" fill="#040418"/>
<use href="#pa4" fill="#10106c" stroke="#10106c" stroke-width="12" filter="url(#bl3)" opacity="0.36"/>
<use href="#pa4" fill="#10106c" filter="url(#bl2)" opacity="0.33"/>
</g>
<ellipse cx="716.0" cy="110.0" rx="24.0" ry="8.0" fill="#000" opacity="0.8" filter="url(#bl2)" transform="rotate(0 716.0 110.0)"/>
<g filter="url(#bl)">
<path d="M715.1 63.0C716.9 62.1 727.2 60.7 728.9 63.0C730.6 65.3 729.2 79.9 729.8 83.1C730.4 86.2 735.1 89.6 734.2 90.0C733.3 90.4 724.4 87.2 722.0 86.5C719.6 85.8 714.8 86.3 713.8 84.4C712.8 82.5 713.6 73.1 713.8 70.6C714.0 68.1 713.3 63.9 715.1 63.0Z" fill="#24a424" opacity="0.53"/>
<path d="M716.1 71.0C717.3 69.6 725.2 69.3 726.4 70.6C727.6 71.9 727.6 81.1 726.4 82.5C725.2 83.9 717.3 83.8 716.1 82.5C714.9 81.2 714.9 72.4 716.1 71.0Z" fill="#c8c400" opacity="0.64"/>
<path d="M719.9 71.8C720.5 70.6 724.7 70.6 725.3 71.8C725.9 73.0 725.9 80.8 725.3 82.0C724.7 83.2 720.5 83.2 719.9 82.0C719.3 80.8 719.3 73.0 719.9 71.8Z" fill="#f06a00" opacity="0.81"/>
<path d="M700.5 133.2C702.7 132.4 715.3 133.5 720.0 133.5C724.7 133.5 738.4 132.0 740.7 133.2C743.0 134.4 740.7 141.4 739.5 143.8C738.3 146.2 733.8 152.2 730.7 153.9C727.6 155.6 716.0 158.4 713.1 158.0C710.2 157.6 707.0 152.2 705.6 150.1C704.2 148.0 702.1 142.0 701.5 140.0C700.9 138.0 698.3 134.0 700.5 133.2Z" fill="#24a424" opacity="0.56"/>
<path d="M705.6 137.0C708.7 135.6 730.1 136.8 733.2 138.2C736.3 139.6 734.0 147.0 731.9 148.9C729.8 150.8 718.5 154.2 715.6 154.3C712.7 154.4 708.0 152.1 706.8 150.1C705.6 148.1 702.5 138.4 705.6 137.0Z" fill="#c8c400" opacity="0.64"/>
<path d="M707.0 139.5C708.3 137.9 718.5 137.3 720.0 138.5C721.5 139.7 721.3 148.4 720.0 150.0C718.7 151.6 710.5 153.2 709.0 152.0C707.5 150.8 705.7 141.1 707.0 139.5Z" fill="#f06a00" opacity="0.50"/>
<path d="M708.4 141.6C708.9 140.2 713.3 138.4 714.2 139.4C715.1 140.4 716.8 148.4 716.3 149.8C715.8 151.2 710.5 152.0 709.6 151.0C708.7 150.0 707.9 143.0 708.4 141.6Z" fill="#f01400" opacity="0.80"/>
<ellipse cx="747.2" cy="103.4" rx="1.4" ry="2.6" fill="#24a424" opacity="0.43"/>
<ellipse cx="741.8" cy="96.5" rx="1.4" ry="1.4" fill="#24a424" opacity="0.26"/>
</g>
<mask id="ma4" maskUnits="userSpaceOnUse" x="652.9" y="36.6" width="126.1" height="152.6"><rect x="652.9" y="36.6" width="126.1" height="152.6" fill="#fff"/><g filter="url(#bl)" opacity="0.28"><path d="M719.9 71.8C720.5 70.6 724.7 70.6 725.3 71.8C725.9 73.0 725.9 80.8 725.3 82.0C724.7 83.2 720.5 83.2 719.9 82.0C719.3 80.8 719.3 73.0 719.9 71.8Z" fill="#000"/><path d="M707.0 139.5C708.3 137.9 718.5 137.3 720.0 138.5C721.5 139.7 721.3 148.4 720.0 150.0C718.7 151.6 710.5 153.2 709.0 152.0C707.5 150.8 705.7 141.1 707.0 139.5Z" fill="#000"/><path d="M708.4 141.6C708.9 140.2 713.3 138.4 714.2 139.4C715.1 140.4 716.8 148.4 716.3 149.8C715.8 151.2 710.5 152.0 709.6 151.0C708.7 150.0 707.9 143.0 708.4 141.6Z" fill="#000"/></g></mask>
<rect x="652.9" y="36.6" width="126.1" height="152.6" fill="url(#gridV)" opacity="0.9"/>
<rect x="652.9" y="36.6" width="126.1" height="152.6" fill="url(#gridH)" opacity="0.9" mask="url(#ma4)"/>
<rect x="652.9" y="36.6" width="23.9" height="152.6" fill="#000"/>
<rect x="666.3" y="42.5" width="9.7" height="144.5" fill="url(#cb)"/>
<use href="#pa4" fill="none" stroke="#f5e11e" stroke-width="1.5" stroke-dasharray="3.6 2.5"/>
<rect x="732.3" y="180.0" width="41.0" height="2.0" fill="#fff"/>
<g opacity="0.995" fill="#fff" stroke="#fff" stroke-width="0.00" font-family="'Liberation Sans', sans-serif">
<text x="663.6" y="46.5" font-size="11.5" textLength="10.3" lengthAdjust="spacingAndGlyphs">13</text>
<text x="653.2" y="71.9" font-size="11.9" textLength="13.4" lengthAdjust="spacingAndGlyphs">10</text>
<text x="655.1" y="100.1" font-size="12.4" textLength="7.6" lengthAdjust="spacingAndGlyphs">8</text>
<text x="655.7" y="129.7" font-size="12.5" textLength="7.4" lengthAdjust="spacingAndGlyphs">5</text>
<text x="655.6" y="155.4" font-size="12.9" textLength="8.3" lengthAdjust="spacingAndGlyphs">3</text>
<text x="655.6" y="179.7" font-size="11.8" textLength="8.3" lengthAdjust="spacingAndGlyphs">0</text>
</g>
<path d="M655.6 44.2H661.0" stroke="#fff" stroke-width="1.30"/>
<path d="M663.2 44.2L659.9 42.3L659.9 46.1Z" fill="#fff"/>
<path d="M655.6 74.9H661.4" stroke="#fff" stroke-width="1.30"/>
<path d="M663.6 74.9L660.3 73.0L660.3 76.8Z" fill="#fff"/>
<path d="M655.6 103.2H661.4" stroke="#fff" stroke-width="1.30"/>
<path d="M663.6 103.2L660.3 101.3L660.3 105.1Z" fill="#fff"/>
<path d="M655.6 132.8H661.4" stroke="#fff" stroke-width="1.30"/>
<path d="M663.6 132.8L660.3 130.9L660.3 134.7Z" fill="#fff"/>
<path d="M655.6 159.4H661.4" stroke="#fff" stroke-width="1.30"/>
<path d="M663.6 159.4L660.3 157.5L660.3 161.3Z" fill="#fff"/>
<path d="M655.9 182.8H662.8" stroke="#fff" stroke-width="1.30"/>
<path d="M665.0 182.8L661.7 180.9L661.7 184.7Z" fill="#fff"/>
</g>
<g clip-path="url(#cb1)">
<rect x="91.9" y="201.9" width="165.4" height="152.7" fill="#000"/>
<clipPath id="fb1"><rect x="116.2" y="203.4" width="139.6" height="149.7"/></clipPath>
<g clip-path="url(#fb1)">
<rect x="116.2" y="203.4" width="139.6" height="149.7" fill="#09092c"/>
<use href="#pb1" fill="#10106c" stroke="#10106c" stroke-width="12" filter="url(#bl3)" opacity="0.39"/>
<use href="#pb1" fill="#10106c" filter="url(#bl2)" opacity="0.35"/>
</g>
<ellipse cx="192.0" cy="298.0" rx="20.0" ry="9.0" fill="#000" opacity="0.8" filter="url(#bl2)" transform="rotate(32 192.0 298.0)"/>
<g filter="url(#bl)">
<path d="M124.4 219.8C126.3 218.3 136.5 217.8 138.9 220.0C141.3 222.2 143.7 234.9 145.1 239.0C146.5 243.1 149.4 252.3 150.8 255.5C152.2 258.6 155.0 264.3 157.0 266.0C159.0 267.7 166.8 268.8 168.0 270.0C169.2 271.2 169.6 275.7 167.5 276.5C165.4 277.3 152.9 278.2 150.0 276.5C147.1 274.8 145.3 265.2 143.0 262.0C140.7 258.8 133.0 252.7 130.6 249.3C128.2 245.9 123.0 236.2 122.3 232.8C121.6 229.4 122.5 221.3 124.4 219.8Z" fill="#24a424" opacity="0.56"/>
<path d="M127.5 223.0C128.9 222.2 137.1 223.4 138.9 226.0C140.7 228.6 142.2 241.8 143.0 245.2C143.8 248.6 146.1 253.7 146.0 255.0C145.9 256.3 143.3 256.9 142.0 256.0C140.7 255.1 136.5 250.0 134.7 247.3C132.9 244.6 127.3 235.6 126.5 232.8C125.7 230.0 126.1 223.8 127.5 223.0Z" fill="#c8c400" opacity="0.63"/>
<path d="M130.6 223.5C131.1 222.2 137.0 226.1 138.2 228.2C139.4 230.3 141.0 240.2 140.5 241.5C140.0 242.8 135.5 241.6 134.3 239.5C133.1 237.4 130.1 224.8 130.6 223.5Z" fill="#f06a00" opacity="0.80"/>
<path d="M131.5 225.0C131.9 224.4 135.8 227.2 136.5 228.5C137.2 229.8 137.9 235.4 137.5 236.0C137.1 236.6 133.7 235.3 133.0 234.0C132.3 232.7 131.1 225.6 131.5 225.0Z" fill="#f01400" opacity="0.62"/>
<ellipse cx="155.6" cy="273.0" rx="3.4" ry="2.8" fill="#c8c400" opacity="0.59"/>
<ellipse cx="155.2" cy="273.2" rx="1.6" ry="1.4" fill="#f06a00" opacity="0.48"/>
<ellipse cx="185.6" cy="316.6" rx="7.6" ry="5.0" fill="#24a424" opacity="0.53" transform="rotate(28 185.6 316.6)"/>
<ellipse cx="183.0" cy="314.5" rx="2.5" ry="2.0" fill="#c8c400" opacity="0.32"/>
<ellipse cx="189.5" cy="319.0" rx="2.0" ry="1.8" fill="#c8c400" opacity="0.24"/>
<path d="M209.7 326.7C211.1 325.2 219.2 320.3 221.8 319.2C224.4 318.1 229.9 317.0 232.2 317.5C234.5 318.0 240.1 321.1 241.2 323.2C242.3 325.3 243.1 333.2 242.0 335.3C240.9 337.4 234.8 340.7 232.2 341.0C229.6 341.3 222.7 338.7 220.1 337.6C217.5 336.5 210.9 333.2 209.7 331.9C208.5 330.6 208.3 328.2 209.7 326.7Z" fill="#24a424" opacity="0.53"/>
<path d="M213.1 327.5C213.5 325.8 224.4 321.7 227.0 321.2C229.6 320.7 234.9 321.5 235.7 323.0C236.5 324.5 235.6 332.3 234.2 333.8C232.8 335.3 226.0 336.3 223.5 335.6C221.0 334.9 212.7 329.2 213.1 327.5Z" fill="#c8c400" opacity="0.56"/>
<path d="M216.0 328.0C216.6 326.4 227.1 321.2 229.0 320.5C230.9 319.8 232.4 320.7 232.5 322.0C232.6 323.3 230.6 330.5 229.5 332.0C228.4 333.5 225.1 335.0 223.5 334.5C221.9 334.0 215.4 329.6 216.0 328.0Z" fill="#f06a00" opacity="0.64"/>
<path d="M217.8 328.2C218.9 328.1 226.5 329.9 227.4 330.6C228.3 331.3 226.7 333.8 225.6 333.9C224.5 334.0 218.9 332.1 218.0 331.4C217.1 330.7 216.7 328.3 217.8 328.2Z" fill="#f01400" opacity="0.95"/>
<ellipse cx="230.4" cy="303.2" rx="6.8" ry="1.7" fill="#a4b010" opacity="1.00" transform="rotate(3 230.4 303.2)"/>
</g>
<mask id="mb1" maskUnits="userSpaceOnUse" x="91.9" y="201.9" width="165.4" height="152.7"><rect x="91.9" y="201.9" width="165.4" height="152.7" fill="#fff"/><g filter="url(#bl)" opacity="0.28"><path d="M130.6 223.5C131.1 222.2 137.0 226.1 138.2 228.2C139.4 230.3 141.0 240.2 140.5 241.5C140.0 242.8 135.5 241.6 134.3 239.5C133.1 237.4 130.1 224.8 130.6 223.5Z" fill="#000"/><path d="M131.5 225.0C131.9 224.4 135.8 227.2 136.5 228.5C137.2 229.8 137.9 235.4 137.5 236.0C137.1 236.6 133.7 235.3 133.0 234.0C132.3 232.7 131.1 225.6 131.5 225.0Z" fill="#000"/><ellipse cx="155.2" cy="273.2" rx="1.6" ry="1.4" fill="#000"/><path d="M216.0 328.0C216.6 326.4 227.1 321.2 229.0 320.5C230.9 319.8 232.4 320.7 232.5 322.0C232.6 323.3 230.6 330.5 229.5 332.0C228.4 333.5 225.1 335.0 223.5 334.5C221.9 334.0 215.4 329.6 216.0 328.0Z" fill="#000"/><path d="M217.8 328.2C218.9 328.1 226.5 329.9 227.4 330.6C228.3 331.3 226.7 333.8 225.6 333.9C224.5 334.0 218.9 332.1 218.0 331.4C217.1 330.7 216.7 328.3 217.8 328.2Z" fill="#000"/></g></mask>
<rect x="91.9" y="201.9" width="165.4" height="152.7" fill="url(#gridV)" opacity="0.9"/>
<rect x="91.9" y="201.9" width="165.4" height="152.7" fill="url(#gridH)" opacity="0.9" mask="url(#mb1)"/>
<rect x="91.9" y="201.9" width="24.1" height="152.7" fill="#000"/>
<rect x="105.3" y="207.5" width="9.9" height="145.0" fill="url(#cb)"/>
<use href="#pb1" fill="none" stroke="#f5e11e" stroke-width="1.5" stroke-dasharray="3.6 2.5"/>
<rect x="120.1" y="346.8" width="40.7" height="2.2" fill="#fff"/>
<g opacity="0.995" fill="#fff" stroke="#fff" stroke-width="0.20" font-family="'Liberation Sans', sans-serif">
<text x="104.3" y="210.6" font-size="13.1" textLength="6.5" lengthAdjust="spacingAndGlyphs">6</text>
<text x="95.7" y="236.7" font-size="11.3" textLength="6.5" lengthAdjust="spacingAndGlyphs">5</text>
<rect x="95.9" y="237.2" width="6.2" height="0.55" stroke="none" opacity="0.8"/>
<text x="95.4" y="267.0" font-size="11.9" textLength="6.9" lengthAdjust="spacingAndGlyphs">4</text>
<rect x="95.6" y="267.6" width="6.5" height="0.55" stroke="none" opacity="0.8"/>
<text x="96.2" y="296.9" font-size="11.6" textLength="5.7" lengthAdjust="spacingAndGlyphs">3</text>
<rect x="96.3" y="297.4" width="5.5" height="0.55" stroke="none" opacity="0.8"/>
<text x="95.7" y="322.5" font-size="11.6" textLength="6.5" lengthAdjust="spacingAndGlyphs">1</text>
<rect x="96.8" y="323.1" width="4.1" height="0.55" stroke="none" opacity="0.8"/>
<text x="96.2" y="346.4" font-size="10.9" textLength="6.4" lengthAdjust="spacingAndGlyphs">0</text>
<rect x="96.3" y="346.9" width="6.1" height="0.55" stroke="none" opacity="0.8"/>
</g>
<path d="M95.2 209.8H101.6" stroke="#fff" stroke-width="1.50"/>
<path d="M103.8 209.8L100.5 207.9L100.5 211.7Z" fill="#fff"/>
<path d="M95.2 241.1H102.0" stroke="#fff" stroke-width="1.50"/>
<path d="M104.2 241.1L100.9 239.2L100.9 243.0Z" fill="#fff"/>
<path d="M95.2 269.5H102.0" stroke="#fff" stroke-width="1.50"/>
<path d="M104.2 269.5L100.9 267.6L100.9 271.4Z" fill="#fff"/>
<path d="M95.2 298.6H102.0" stroke="#fff" stroke-width="1.50"/>
<path d="M104.2 298.6L100.9 296.7L100.9 300.5Z" fill="#fff"/>
<path d="M95.2 325.3H102.0" stroke="#fff" stroke-width="1.50"/>
<path d="M104.2 325.3L100.9 323.4L100.9 327.2Z" fill="#fff"/>
<path d="M95.9 349.0H102.8" stroke="#fff" stroke-width="1.50"/>
<path d="M105.0 349.0L101.7 347.1L101.7 350.9Z" fill="#fff"/>
</g>
<g clip-path="url(#cb2)">
<rect x="269.9" y="201.9" width="166.3" height="152.7" fill="#000"/>
<clipPath id="fb2"><rect x="294.2" y="203.4" width="140.5" height="149.7"/></clipPath>
<g clip-path="url(#fb2)">
<rect x="294.2" y="203.4" width="140.5" height="149.7" fill="#080826"/>
<use href="#pb2" fill="#10106c" stroke="#10106c" stroke-width="12" filter="url(#bl3)" opacity="0.39"/>
<use href="#pb2" fill="#10106c" filter="url(#bl2)" opacity="0.35"/>
</g>
<ellipse cx="380.0" cy="306.0" rx="20.0" ry="9.0" fill="#000" opacity="0.8" filter="url(#bl2)" transform="rotate(25 380.0 306.0)"/>
<g filter="url(#bl)">
<path d="M301.0 217.5C302.9 216.1 315.4 216.1 318.9 218.8C322.4 221.5 327.5 235.8 330.8 240.6C334.1 245.4 344.1 255.7 347.4 259.6C350.7 263.5 358.4 270.8 359.5 273.9C360.6 277.0 359.2 285.0 357.2 286.2C355.2 287.4 346.0 286.6 342.6 283.8C339.2 281.0 331.7 266.5 328.4 262.0C325.1 257.5 317.1 249.0 314.1 245.4C311.1 241.8 303.8 234.4 302.3 231.1C300.8 227.8 299.1 218.9 301.0 217.5Z" fill="#24a424" opacity="0.50"/>
<path d="M306.0 223.0C306.1 220.8 314.1 223.0 316.0 225.0C317.9 227.0 319.9 236.4 322.0 240.0C324.1 243.6 331.0 252.3 334.0 256.0C337.0 259.7 346.1 269.1 348.0 272.0C349.9 274.9 350.9 280.2 350.0 281.0C349.1 281.8 342.6 281.4 340.0 279.0C337.4 276.6 330.9 264.1 328.0 260.0C325.1 255.9 317.6 248.3 315.0 244.0C312.4 239.7 305.9 225.2 306.0 223.0Z" fill="#c8c400" opacity="0.32"/>
<path d="M306.2 223.2C307.0 222.2 314.4 224.0 315.8 225.6C317.2 227.2 319.3 235.6 318.5 236.6C317.7 237.6 310.4 235.8 309.0 234.2C307.6 232.6 305.4 224.2 306.2 223.2Z" fill="#f06a00" opacity="0.72"/>
<path d="M307.8 225.2C308.3 224.5 313.3 225.9 314.3 227.0C315.3 228.1 316.5 233.5 316.0 234.2C315.5 234.9 311.0 233.9 310.0 232.8C309.0 231.8 307.3 225.9 307.8 225.2Z" fill="#f01400" opacity="0.76"/>
<path d="M331.3 262.4C331.6 261.1 338.9 264.3 340.9 266.0C342.9 267.7 347.6 275.0 348.2 276.9C348.8 278.8 347.1 282.0 346.0 282.0C344.9 282.0 340.2 279.3 338.5 277.0C336.8 274.7 331.0 263.7 331.3 262.4Z" fill="#f06a00" opacity="0.72"/>
<path d="M333.5 265.0C333.5 264.1 338.6 266.3 340.0 267.5C341.4 268.7 345.5 274.6 345.5 275.5C345.5 276.4 341.4 276.2 340.0 275.0C338.6 273.8 333.5 265.9 333.5 265.0Z" fill="#f01400" opacity="0.76"/>
<ellipse cx="359.2" cy="313.2" rx="3.6" ry="3.6" fill="#24a424" opacity="0.43"/>
<ellipse cx="366.5" cy="321.6" rx="3.6" ry="3.4" fill="#24a424" opacity="0.43"/>
<ellipse cx="366.8" cy="321.4" rx="1.6" ry="1.6" fill="#c8c400" opacity="0.28"/>
<ellipse cx="384.3" cy="290.4" rx="2.2" ry="2.6" fill="#24a424" opacity="0.37"/>
<path d="M389.6 326.8C390.9 325.2 402.7 319.5 406.1 318.5C409.5 317.5 416.9 317.1 418.8 318.5C420.7 319.9 421.9 327.4 422.0 330.1C422.1 332.8 421.7 340.3 419.8 341.6C417.9 342.9 409.0 342.7 406.1 341.6C403.2 340.6 397.0 334.3 395.1 332.6C393.2 330.9 388.3 328.4 389.6 326.8Z" fill="#24a424" opacity="0.53"/>
<path d="M392.9 326.8C394.1 325.5 405.4 320.4 408.3 319.8C411.2 319.2 416.4 319.7 417.6 322.0C418.8 324.3 419.7 337.2 418.6 339.2C417.5 341.2 410.7 340.2 408.3 339.2C405.9 338.2 399.8 332.4 398.0 331.0C396.2 329.6 391.7 328.1 392.9 326.8Z" fill="#c8c400" opacity="0.56"/>
<path d="M393.5 326.2C393.4 325.7 401.6 327.2 404.0 326.5C406.4 325.8 412.4 320.8 413.9 320.5C415.4 320.2 416.9 321.9 417.0 324.0C417.1 326.1 415.5 336.8 414.5 338.5C413.5 340.2 409.6 339.4 408.5 338.5C407.4 337.6 406.8 332.4 405.0 331.0C403.2 329.6 393.6 326.7 393.5 326.2Z" fill="#f06a00" opacity="0.68"/>
<path d="M394.5 325.8C395.0 325.4 401.8 327.1 404.0 326.5C406.2 325.9 412.3 321.0 413.5 320.8C414.7 320.6 415.1 323.4 414.5 324.5C413.9 325.6 409.7 329.4 408.0 330.0C406.3 330.6 401.6 330.5 400.0 330.0C398.4 329.5 394.0 326.2 394.5 325.8Z" fill="#f01400" opacity="0.85"/>
<ellipse cx="410.5" cy="336.5" rx="2.4" ry="3.2" fill="#f01400" opacity="0.57"/>
<ellipse cx="411.2" cy="302.5" rx="5.2" ry="1.4" fill="#f06a00" opacity="0.68"/>
<ellipse cx="404.0" cy="304.6" rx="2.2" ry="1.6" fill="#24a424" opacity="0.31"/>
</g>
<mask id="mb2" maskUnits="userSpaceOnUse" x="269.9" y="201.9" width="166.3" height="152.7"><rect x="269.9" y="201.9" width="166.3" height="152.7" fill="#fff"/><g filter="url(#bl)" opacity="0.28"><path d="M306.2 223.2C307.0 222.2 314.4 224.0 315.8 225.6C317.2 227.2 319.3 235.6 318.5 236.6C317.7 237.6 310.4 235.8 309.0 234.2C307.6 232.6 305.4 224.2 306.2 223.2Z" fill="#000"/><path d="M307.8 225.2C308.3 224.5 313.3 225.9 314.3 227.0C315.3 228.1 316.5 233.5 316.0 234.2C315.5 234.9 311.0 233.9 310.0 232.8C309.0 231.8 307.3 225.9 307.8 225.2Z" fill="#000"/><path d="M331.3 262.4C331.6 261.1 338.9 264.3 340.9 266.0C342.9 267.7 347.6 275.0 348.2 276.9C348.8 278.8 347.1 282.0 346.0 282.0C344.9 282.0 340.2 279.3 338.5 277.0C336.8 274.7 331.0 263.7 331.3 262.4Z" fill="#000"/><path d="M333.5 265.0C333.5 264.1 338.6 266.3 340.0 267.5C341.4 268.7 345.5 274.6 345.5 275.5C345.5 276.4 341.4 276.2 340.0 275.0C338.6 273.8 333.5 265.9 333.5 265.0Z" fill="#000"/><path d="M393.5 326.2C393.4 325.7 401.6 327.2 404.0 326.5C406.4 325.8 412.4 320.8 413.9 320.5C415.4 320.2 416.9 321.9 417.0 324.0C417.1 326.1 415.5 336.8 414.5 338.5C413.5 340.2 409.6 339.4 408.5 338.5C407.4 337.6 406.8 332.4 405.0 331.0C403.2 329.6 393.6 326.7 393.5 326.2Z" fill="#000"/><path d="M394.5 325.8C395.0 325.4 401.8 327.1 404.0 326.5C406.2 325.9 412.3 321.0 413.5 320.8C414.7 320.6 415.1 323.4 414.5 324.5C413.9 325.6 409.7 329.4 408.0 330.0C406.3 330.6 401.6 330.5 400.0 330.0C398.4 329.5 394.0 326.2 394.5 325.8Z" fill="#000"/><ellipse cx="410.5" cy="336.5" rx="2.4" ry="3.2" fill="#000"/><ellipse cx="411.2" cy="302.5" rx="5.2" ry="1.4" fill="#000"/></g></mask>
<rect x="269.9" y="201.9" width="166.3" height="152.7" fill="url(#gridV)" opacity="0.9"/>
<rect x="269.9" y="201.9" width="166.3" height="152.7" fill="url(#gridH)" opacity="0.9" mask="url(#mb2)"/>
<rect x="269.9" y="201.9" width="24.1" height="152.7" fill="#000"/>
<rect x="283.3" y="207.5" width="9.9" height="145.0" fill="url(#cb)"/>
<use href="#pb2" fill="none" stroke="#f5e11e" stroke-width="1.5" stroke-dasharray="3.6 2.5"/>
<rect x="303.0" y="346.8" width="40.7" height="2.2" fill="#fff"/>
<g opacity="0.995" fill="#fff" stroke="#fff" stroke-width="0.00" font-family="'Liberation Sans', sans-serif">
<text x="281.5" y="214.5" font-size="12.4" textLength="7.0" lengthAdjust="spacingAndGlyphs">6</text>
<text x="273.1" y="237.1" font-size="12.9" textLength="6.9" lengthAdjust="spacingAndGlyphs">5</text>
<text x="273.2" y="265.5" font-size="12.4" textLength="6.4" lengthAdjust="spacingAndGlyphs">3</text>
<text x="273.1" y="294.0" font-size="12.5" textLength="6.9" lengthAdjust="spacingAndGlyphs">2</text>
<text x="272.6" y="319.5" font-size="13.1" textLength="7.3" lengthAdjust="spacingAndGlyphs">1</text>
<text x="273.1" y="343.1" font-size="12.6" textLength="6.9" lengthAdjust="spacingAndGlyphs">0</text>
</g>
<path d="M272.4 209.8H278.6" stroke="#fff" stroke-width="1.45"/>
<path d="M280.8 209.8L277.5 207.9L277.5 211.7Z" fill="#fff"/>
<path d="M272.4 241.1H278.8" stroke="#fff" stroke-width="1.45"/>
<path d="M281.0 241.1L277.7 239.2L277.7 243.0Z" fill="#fff"/>
<path d="M272.4 269.2H278.8" stroke="#fff" stroke-width="1.45"/>
<path d="M281.0 269.2L277.7 267.3L277.7 271.1Z" fill="#fff"/>
<path d="M272.4 298.4H278.8" stroke="#fff" stroke-width="1.45"/>
<path d="M281.0 298.4L277.7 296.5L277.7 300.3Z" fill="#fff"/>
<path d="M272.4 325.4H278.8" stroke="#fff" stroke-width="1.45"/>
<path d="M281.0 325.4L277.7 323.5L277.7 327.3Z" fill="#fff"/>
<path d="M273.6 349.0H280.0" stroke="#fff" stroke-width="1.45"/>
<path d="M282.2 349.0L278.9 347.1L278.9 350.9Z" fill="#fff"/>
</g>
<g clip-path="url(#cb3)">
<rect x="450.5" y="201.9" width="165.7" height="152.7" fill="#000"/>
<clipPath id="fb3"><rect x="474.6" y="203.4" width="140.1" height="149.7"/></clipPath>
<g clip-path="url(#fb3)">
<rect x="474.6" y="203.4" width="140.1" height="149.7" fill="#070722"/>
<use href="#pb3" fill="#10106c" stroke="#10106c" stroke-width="12" filter="url(#bl3)" opacity="0.33"/>
<use href="#pb3" fill="#10106c" filter="url(#bl2)" opacity="0.30"/>
</g>
<ellipse cx="572.0" cy="310.0" rx="18.0" ry="8.0" fill="#000" opacity="0.8" filter="url(#bl2)" transform="rotate(15 572.0 310.0)"/>
<g filter="url(#bl)">
<path d="M481.6 219.0C483.2 218.1 492.6 220.4 495.7 223.0C498.8 225.6 505.6 237.2 508.6 241.4C511.6 245.6 518.1 256.2 521.4 259.4C524.7 262.6 532.9 266.8 536.8 269.2C540.7 271.6 550.8 277.1 554.8 279.6C558.8 282.1 569.6 288.4 570.8 290.3C572.0 292.2 567.9 295.7 565.1 295.8C562.3 295.9 551.6 291.7 547.1 290.8C542.6 289.9 530.2 290.1 526.6 288.2C523.0 286.3 518.7 278.5 516.3 274.8C513.9 271.1 508.7 260.7 506.0 256.8C503.3 252.9 495.9 244.4 493.1 241.4C490.3 238.4 483.7 233.7 482.4 231.1C481.1 228.5 480.0 219.9 481.6 219.0Z" fill="#24a424" opacity="0.53"/>
<path d="M486.0 224.1C487.1 223.9 494.1 227.0 494.8 228.2C495.5 229.4 493.3 234.0 492.2 234.2C491.1 234.4 485.7 231.4 485.0 230.2C484.3 229.0 484.9 224.3 486.0 224.1Z" fill="#f06a00" opacity="0.64"/>
<path d="M522.0 270.0C523.2 268.5 532.0 270.5 536.0 272.0C540.0 273.5 552.3 280.7 556.0 283.0C559.7 285.3 567.5 290.8 568.0 292.0C568.5 293.2 562.7 293.9 560.0 293.5C557.3 293.1 549.0 290.0 545.0 289.0C541.0 288.0 528.7 287.2 526.0 285.0C523.3 282.8 520.8 271.5 522.0 270.0Z" fill="#c8c400" opacity="0.32"/>
<path d="M522.2 271.6C523.3 270.4 530.6 271.9 533.6 273.0C536.6 274.1 544.1 278.9 548.0 281.0C551.9 283.1 565.6 289.6 567.0 291.0C568.4 292.4 562.6 293.4 560.0 293.0C557.4 292.6 549.2 289.1 545.0 288.0C540.8 286.9 526.7 285.3 524.0 283.4C521.3 281.5 521.1 272.8 522.2 271.6Z" fill="#f06a00" opacity="0.40"/>
<path d="M524.2 273.4C524.9 272.7 530.5 273.5 531.5 274.4C532.5 275.3 533.1 280.1 532.4 280.8C531.7 281.5 526.4 281.7 525.4 280.8C524.4 279.9 523.5 274.1 524.2 273.4Z" fill="#f01400" opacity="0.66"/>
<ellipse cx="548.2" cy="324.4" rx="4.6" ry="5.6" fill="#24a424" opacity="0.37"/>
<ellipse cx="548.0" cy="324.4" rx="2.2" ry="4.4" fill="#f06a00" opacity="0.72"/>
<path d="M571.4 327.5C572.2 325.8 584.0 322.0 587.0 321.0C590.0 320.0 595.6 318.5 597.4 319.2C599.2 319.9 601.7 324.4 602.2 326.7C602.7 329.0 602.8 337.0 601.4 338.8C600.0 340.6 593.0 342.3 590.5 341.9C588.0 341.5 582.3 337.3 580.1 335.6C577.9 333.9 570.6 329.2 571.4 327.5Z" fill="#24a424" opacity="0.53"/>
<path d="M573.1 327.5C573.5 325.8 585.7 323.2 588.7 322.8C591.7 322.4 597.9 322.8 599.1 324.5C600.3 326.2 601.0 335.9 599.4 337.4C597.8 338.9 588.4 338.6 585.3 337.4C582.2 336.2 572.7 329.2 573.1 327.5Z" fill="#c8c400" opacity="0.56"/>
<path d="M583.0 328.0C584.3 326.7 595.8 324.4 597.5 325.5C599.2 326.6 599.3 336.2 598.0 337.5C596.7 338.8 587.8 338.1 586.0 337.0C584.2 335.9 581.7 329.3 583.0 328.0Z" fill="#f06a00" opacity="0.36"/>
<path d="M591.5 332.5C592.2 331.8 596.9 331.3 597.6 332.0C598.3 332.7 598.3 337.5 597.6 338.2C596.9 338.9 592.7 338.3 592.0 337.6C591.3 336.9 590.8 333.2 591.5 332.5Z" fill="#f01400" opacity="0.76"/>
<ellipse cx="589.5" cy="298.5" rx="1.8" ry="1.4" fill="#24a424" opacity="0.31"/>
</g>
<mask id="mb3" maskUnits="userSpaceOnUse" x="450.5" y="201.9" width="165.7" height="152.7"><rect x="450.5" y="201.9" width="165.7" height="152.7" fill="#fff"/><g filter="url(#bl)" opacity="0.28"><path d="M486.0 224.1C487.1 223.9 494.1 227.0 494.8 228.2C495.5 229.4 493.3 234.0 492.2 234.2C491.1 234.4 485.7 231.4 485.0 230.2C484.3 229.0 484.9 224.3 486.0 224.1Z" fill="#000"/><path d="M522.2 271.6C523.3 270.4 530.6 271.9 533.6 273.0C536.6 274.1 544.1 278.9 548.0 281.0C551.9 283.1 565.6 289.6 567.0 291.0C568.4 292.4 562.6 293.4 560.0 293.0C557.4 292.6 549.2 289.1 545.0 288.0C540.8 286.9 526.7 285.3 524.0 283.4C521.3 281.5 521.1 272.8 522.2 271.6Z" fill="#000"/><path d="M524.2 273.4C524.9 272.7 530.5 273.5 531.5 274.4C532.5 275.3 533.1 280.1 532.4 280.8C531.7 281.5 526.4 281.7 525.4 280.8C524.4 279.9 523.5 274.1 524.2 273.4Z" fill="#000"/><ellipse cx="548.0" cy="324.4" rx="2.2" ry="4.4" fill="#000"/><path d="M583.0 328.0C584.3 326.7 595.8 324.4 597.5 325.5C599.2 326.6 599.3 336.2 598.0 337.5C596.7 338.8 587.8 338.1 586.0 337.0C584.2 335.9 581.7 329.3 583.0 328.0Z" fill="#000"/><path d="M591.5 332.5C592.2 331.8 596.9 331.3 597.6 332.0C598.3 332.7 598.3 337.5 597.6 338.2C596.9 338.9 592.7 338.3 592.0 337.6C591.3 336.9 590.8 333.2 591.5 332.5Z" fill="#000"/></g></mask>
<rect x="450.5" y="201.9" width="165.7" height="152.7" fill="url(#gridV)" opacity="0.9"/>
<rect x="450.5" y="201.9" width="165.7" height="152.7" fill="url(#gridH)" opacity="0.9" mask="url(#mb3)"/>
<rect x="450.5" y="201.9" width="23.9" height="152.7" fill="#000"/>
<rect x="464.0" y="207.5" width="9.6" height="145.0" fill="url(#cb)"/>
<use href="#pb3" fill="none" stroke="#f5e11e" stroke-width="1.5" stroke-dasharray="3.6 2.5"/>
<rect x="480.3" y="346.8" width="41.2" height="2.2" fill="#fff"/>
<g opacity="0.995" fill="#fff" stroke="#fff" stroke-width="0.00" font-family="'Liberation Sans', sans-serif">
<text x="463.5" y="212.0" font-size="12.9" textLength="6.9" lengthAdjust="spacingAndGlyphs">6</text>
<text x="454.7" y="238.2" font-size="11.8" textLength="5.8" lengthAdjust="spacingAndGlyphs">5</text>
<text x="453.7" y="264.8" font-size="12.1" textLength="7.4" lengthAdjust="spacingAndGlyphs">4</text>
<text x="454.1" y="292.8" font-size="11.9" textLength="7.0" lengthAdjust="spacingAndGlyphs">2</text>
<text x="453.6" y="318.0" font-size="12.6" textLength="7.0" lengthAdjust="spacingAndGlyphs">1</text>
<text x="454.6" y="341.9" font-size="11.9" textLength="6.9" lengthAdjust="spacingAndGlyphs">0</text>
</g>
<path d="M453.6 209.1H460.0" stroke="#fff" stroke-width="1.45"/>
<path d="M462.2 209.1L458.9 207.2L458.9 211.0Z" fill="#fff"/>
<path d="M453.6 240.4H460.2" stroke="#fff" stroke-width="1.45"/>
<path d="M462.4 240.4L459.1 238.5L459.1 242.3Z" fill="#fff"/>
<path d="M453.6 268.5H460.2" stroke="#fff" stroke-width="1.45"/>
<path d="M462.4 268.5L459.1 266.6L459.1 270.4Z" fill="#fff"/>
<path d="M453.6 298.0H460.2" stroke="#fff" stroke-width="1.45"/>
<path d="M462.4 298.0L459.1 296.1L459.1 299.9Z" fill="#fff"/>
<path d="M453.6 324.5H460.2" stroke="#fff" stroke-width="1.45"/>
<path d="M462.4 324.5L459.1 322.6L459.1 326.4Z" fill="#fff"/>
<path d="M454.2 348.3H461.1" stroke="#fff" stroke-width="1.45"/>
<path d="M463.3 348.3L460.0 346.4L460.0 350.2Z" fill="#fff"/>
</g>
<g clip-path="url(#cb4)">
<rect x="631.8" y="201.9" width="165.8" height="152.7" fill="#000"/>
<clipPath id="fb4"><rect x="656.2" y="203.4" width="139.9" height="149.7"/></clipPath>
<g clip-path="url(#fb4)">
<rect x="656.2" y="203.4" width="139.9" height="149.7" fill="#03030c"/>
<use href="#pb4" fill="#10106c" stroke="#10106c" stroke-width="12" filter="url(#bl3)" opacity="0.22"/>
<use href="#pb4" fill="#10106c" filter="url(#bl2)" opacity="0.20"/>
</g>
<ellipse cx="752.0" cy="312.0" rx="22.0" ry="8.0" fill="#000" opacity="0.8" filter="url(#bl2)" transform="rotate(10 752.0 312.0)"/>
<g filter="url(#bl)">
<ellipse cx="675.4" cy="227.2" rx="4.8" ry="3.8" fill="#24a424" opacity="0.62" transform="rotate(20 675.4 227.2)"/>
<ellipse cx="674.6" cy="226.6" rx="2.4" ry="2.0" fill="#c8c400" opacity="0.66"/>
<ellipse cx="678.2" cy="226.6" rx="1.5" ry="1.5" fill="#f01400" opacity="0.95"/>
<path d="M710.3 273.2C711.5 272.7 715.9 274.3 719.3 275.6C722.7 276.9 735.7 282.7 739.8 284.6C743.9 286.5 752.9 290.0 754.4 291.5C755.9 293.0 755.6 297.0 753.0 297.2C750.4 297.4 736.6 294.4 732.1 293.3C727.6 292.2 716.8 289.8 714.1 288.2C711.4 286.6 709.0 281.8 708.6 280.0C708.2 278.2 709.1 273.7 710.3 273.2Z" fill="#24a424" opacity="0.46"/>
<path d="M711.0 275.5C711.0 274.4 714.7 275.5 716.0 276.5C717.3 277.5 719.2 282.4 722.0 284.0C724.8 285.6 736.4 288.8 740.0 290.0C743.6 291.2 751.6 293.8 752.5 294.5C753.4 295.2 750.4 296.3 748.0 296.0C745.6 295.7 735.7 293.2 732.0 292.0C728.3 290.8 718.5 287.9 716.0 286.0C713.5 284.1 711.0 276.6 711.0 275.5Z" fill="#f06a00" opacity="0.44"/>
<ellipse cx="713.0" cy="277.6" rx="2.2" ry="2.2" fill="#f01400" opacity="0.66"/>
<ellipse cx="728.8" cy="327.4" rx="4.2" ry="8.6" fill="#24a424" opacity="0.43" transform="rotate(-6 728.8 327.4)"/>
<ellipse cx="728.6" cy="326.0" rx="1.8" ry="6.4" fill="#f06a00" opacity="0.48" transform="rotate(-6 728.6 326.0)"/>
<path d="M747.9 324.5C749.9 323.6 762.7 323.2 767.0 322.8C771.3 322.4 782.1 319.9 784.6 321.0C787.1 322.1 788.2 329.4 788.2 331.9C788.2 334.4 786.5 341.5 784.6 342.8C782.7 344.1 774.3 343.8 772.2 342.8C770.1 341.8 769.6 335.4 767.0 334.0C764.4 332.6 751.9 331.5 749.7 330.4C747.5 329.3 745.9 325.4 747.9 324.5Z" fill="#24a424" opacity="0.53"/>
<path d="M770.5 325.5C772.2 324.4 782.8 322.6 784.5 324.5C786.2 326.4 786.4 340.0 785.0 342.0C783.6 344.0 774.3 342.9 772.5 342.0C770.7 341.1 769.7 335.9 769.5 334.0C769.3 332.1 768.8 326.6 770.5 325.5Z" fill="#c8c400" opacity="0.35"/>
<path d="M776.0 326.2C776.8 324.5 782.7 324.5 783.6 326.2C784.5 327.9 784.4 338.9 783.6 340.6C782.8 342.3 777.5 342.3 776.6 340.6C775.7 338.9 775.2 327.9 776.0 326.2Z" fill="#f06a00" opacity="0.56"/>
<ellipse cx="772.0" cy="338.5" rx="2.4" ry="3.4" fill="#f06a00" opacity="0.36"/>
<ellipse cx="775.6" cy="303.3" rx="8.0" ry="2.4" fill="#24a424" opacity="0.19"/>
</g>
<mask id="mb4" maskUnits="userSpaceOnUse" x="631.8" y="201.9" width="165.8" height="152.7"><rect x="631.8" y="201.9" width="165.8" height="152.7" fill="#fff"/><g filter="url(#bl)" opacity="0.28"><ellipse cx="678.2" cy="226.6" rx="1.5" ry="1.5" fill="#000"/><path d="M711.0 275.5C711.0 274.4 714.7 275.5 716.0 276.5C717.3 277.5 719.2 282.4 722.0 284.0C724.8 285.6 736.4 288.8 740.0 290.0C743.6 291.2 751.6 293.8 752.5 294.5C753.4 295.2 750.4 296.3 748.0 296.0C745.6 295.7 735.7 293.2 732.0 292.0C728.3 290.8 718.5 287.9 716.0 286.0C713.5 284.1 711.0 276.6 711.0 275.5Z" fill="#000"/><ellipse cx="713.0" cy="277.6" rx="2.2" ry="2.2" fill="#000"/><ellipse cx="728.6" cy="326.0" rx="1.8" ry="6.4" fill="#000" transform="rotate(-6 728.6 326.0)"/><path d="M776.0 326.2C776.8 324.5 782.7 324.5 783.6 326.2C784.5 327.9 784.4 338.9 783.6 340.6C782.8 342.3 777.5 342.3 776.6 340.6C775.7 338.9 775.2 327.9 776.0 326.2Z" fill="#000"/><ellipse cx="772.0" cy="338.5" rx="2.4" ry="3.4" fill="#000"/></g></mask>
<rect x="631.8" y="201.9" width="165.8" height="152.7" fill="url(#gridV)" opacity="0.9"/>
<rect x="631.8" y="201.9" width="165.8" height="152.7" fill="url(#gridH)" opacity="0.9" mask="url(#mb4)"/>
<rect x="631.8" y="201.9" width="24.2" height="152.7" fill="#000"/>
<rect x="645.3" y="207.5" width="9.9" height="145.0" fill="url(#cb)"/>
<use href="#pb4" fill="none" stroke="#f5e11e" stroke-width="1.5" stroke-dasharray="3.6 2.5"/>
<rect x="662.3" y="346.8" width="41.2" height="2.2" fill="#fff"/>
<g opacity="0.995" fill="#fff" stroke="#fff" stroke-width="0.20" font-family="'Liberation Sans', sans-serif">
<text x="643.6" y="213.5" font-size="13.1" textLength="6.5" lengthAdjust="spacingAndGlyphs">9</text>
<text x="635.7" y="235.2" font-size="11.8" textLength="5.8" lengthAdjust="spacingAndGlyphs">7</text>
<rect x="635.8" y="235.8" width="5.6" height="0.55" stroke="none" opacity="0.8"/>
<text x="635.2" y="265.5" font-size="11.9" textLength="6.0" lengthAdjust="spacingAndGlyphs">5</text>
<rect x="635.3" y="266.1" width="5.8" height="0.55" stroke="none" opacity="0.8"/>
<text x="635.2" y="295.0" font-size="11.9" textLength="6.0" lengthAdjust="spacingAndGlyphs">3</text>
<rect x="635.3" y="295.6" width="5.8" height="0.55" stroke="none" opacity="0.8"/>
<text x="635.2" y="321.0" font-size="11.6" textLength="6.0" lengthAdjust="spacingAndGlyphs">2</text>
<rect x="635.3" y="321.6" width="5.8" height="0.55" stroke="none" opacity="0.8"/>
<text x="635.7" y="346.1" font-size="11.6" textLength="6.4" lengthAdjust="spacingAndGlyphs">0</text>
<rect x="635.8" y="346.7" width="6.1" height="0.55" stroke="none" opacity="0.8"/>
</g>
<path d="M634.6 208.6H641.0" stroke="#fff" stroke-width="1.45"/>
<path d="M643.2 208.6L639.9 206.7L639.9 210.5Z" fill="#fff"/>
<path d="M634.6 240.5H641.0" stroke="#fff" stroke-width="1.45"/>
<path d="M643.2 240.5L639.9 238.6L639.9 242.4Z" fill="#fff"/>
<path d="M634.6 268.5H641.0" stroke="#fff" stroke-width="1.45"/>
<path d="M643.2 268.5L639.9 266.6L639.9 270.4Z" fill="#fff"/>
<path d="M634.6 298.0H641.0" stroke="#fff" stroke-width="1.45"/>
<path d="M643.2 298.0L639.9 296.1L639.9 299.9Z" fill="#fff"/>
<path d="M634.6 324.2H641.0" stroke="#fff" stroke-width="1.45"/>
<path d="M643.2 324.2L639.9 322.3L639.9 326.1Z" fill="#fff"/>
<path d="M635.2 348.6H642.1" stroke="#fff" stroke-width="1.45"/>
<path d="M644.3 348.6L641.0 346.7L641.0 350.5Z" fill="#fff"/>
</g>
<g opacity="0.995" fill="#111" font-family="'Liberation Sans', sans-serif">
<text x="0.8" y="16.9" font-size="17.0" textLength="15.8" lengthAdjust="spacingAndGlyphs">a)</text>
<text x="97.5" y="17.3" font-size="16.9" textLength="138.5" lengthAdjust="spacingAndGlyphs">Before exposure</text>
<text x="313.6" y="17.8" font-size="16.9" textLength="57.8" lengthAdjust="spacingAndGlyphs">10 min</text>
<text x="490.0" y="16.9" font-size="16.7" textLength="58.4" lengthAdjust="spacingAndGlyphs">30 min</text>
<text x="675.0" y="16.9" font-size="16.7" textLength="58.4" lengthAdjust="spacingAndGlyphs">60 min</text>
<text x="1.0" y="215.6" font-size="18.0" textLength="17.6" lengthAdjust="spacingAndGlyphs">b)</text>
<g transform="translate(72.1 146.6) rotate(-90)"><text x="0.0" y="0.0" font-size="23.2" textLength="67.6" lengthAdjust="spacingAndGlyphs">LED 2s</text></g>
<g transform="translate(72.2 343.8) rotate(-90)"><text x="0.0" y="0.0" font-size="23.2" textLength="131.0" lengthAdjust="spacingAndGlyphs">mCherry 15s</text></g>
</g>
</svg>
</body></html>
